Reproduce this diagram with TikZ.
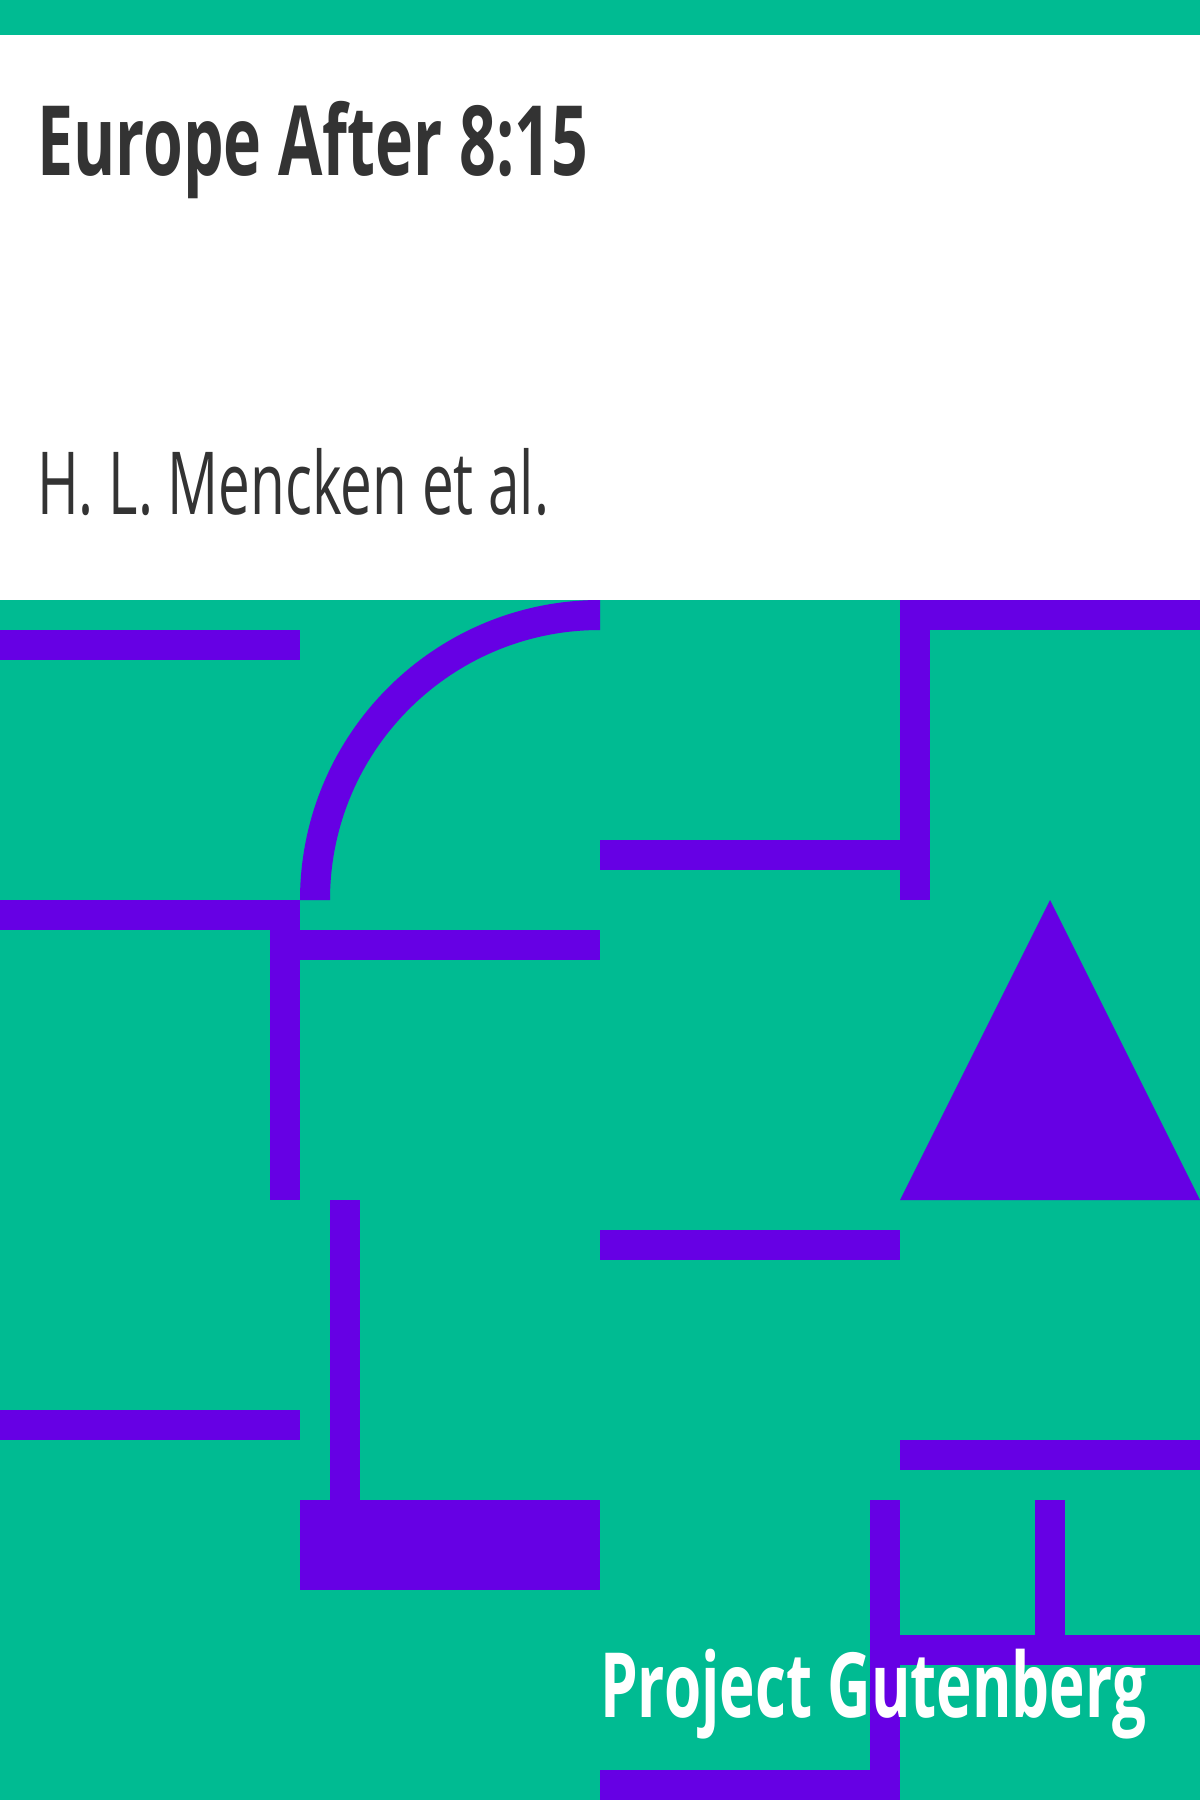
\documentclass[tikz,border=0pt]{standalone}
\usepackage{fontspec}
\usepackage{graphicx}
\usetikzlibrary{positioning}
\newfontfamily\coverfont{Open Sans}
\definecolor{pgreen}{RGB}{0,187,146}
\definecolor{ppurple}{RGB}{102,0,228}
\definecolor{ptext}{RGB}{51,51,51}

\begin{document}
\begin{tikzpicture}[x=1pt, y=-1pt,
    bar/.style={fill=ppurple},
    title/.style={anchor=base west, inner sep=0pt, text=ptext, font=\coverfont\bfseries\fontsize{97}{100}\selectfont},
    author/.style={anchor=base west, inner sep=0pt, text=ptext, font=\coverfont\fontsize{87}{90}\selectfont},
    brand/.style={anchor=base west, inner sep=0pt, text=white, font=\coverfont\bfseries\fontsize{90}{94}\selectfont}]
    \useasboundingbox (0,0) rectangle (1200,1800);
    \fill[white] (0,0) rectangle (1200,1800);
    \fill[pgreen] (0,0) rectangle (1200,35);
    \fill[pgreen] (0,600) rectangle (1200,1800);

    % first row
    \fill[bar] (0,630) rectangle (300,660);
    \fill[bar] (600,600) arc[start angle=270, end angle=180, radius=300]
        -- (330,900) arc[start angle=180, end angle=270, radius=270] -- cycle;
    \fill[bar] (900,600) rectangle (1200,630);
    \fill[bar] (900,600) rectangle (930,900);
    \fill[bar] (600,840) rectangle (900,870);

    % second row
    \fill[bar] (0,900) rectangle (300,930);
    \fill[bar] (270,900) rectangle (300,1200);
    \fill[bar] (300,930) rectangle (600,960);
    \fill[bar] (1050,900) -- (1200,1200) -- (900,1200) -- cycle;

    % third row
    \fill[bar] (330,1200) rectangle (360,1500);
    \fill[bar] (600,1230) rectangle (900,1260);
    \fill[bar] (0,1410) rectangle (300,1440);
    \fill[bar] (900,1440) rectangle (1200,1470);

    % fourth row
    \fill[bar] (300,1500) rectangle (600,1590);
    \fill[bar] (870,1500) rectangle (900,1800);
    \fill[bar] (600,1770) rectangle (900,1800);
    \fill[bar] (1035,1500) rectangle (1065,1635);
    \fill[bar] (900,1635) rectangle (1200,1665);

    \node[title] (booktitle) at (37,175) {\resizebox{551pt}{\height}{Europe After 8:15}};
    \node[author] (bookauthor) at (37,514) {\resizebox{512pt}{\height}{H. L. Mencken et al.}};
    \node[brand] (pg) at (600,1717) {\resizebox{546pt}{\height}{Project Gutenberg}};
\end{tikzpicture}
\end{document}
